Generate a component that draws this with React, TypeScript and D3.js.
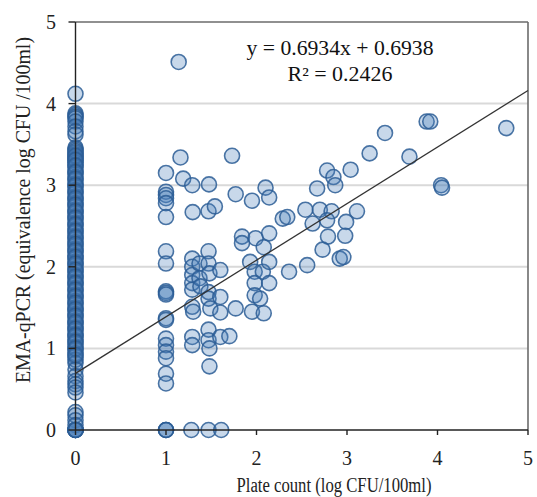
import React from "react";
import * as d3 from "d3";

// EMA-qPCR values where plate count = 0
const zeroPlateQpcr = [
  4.12, 3.88, 3.86, 3.84, 3.82, 3.78, 3.72, 3.66, 3.62, 3.46, 3.44, 3.4, 3.38,
  3.35, 3.33, 3.3, 3.28, 3.25, 3.22, 3.18, 3.14, 3.1, 3.06, 3.02, 2.98, 2.94,
  2.9, 2.86, 2.82, 2.78, 2.74, 2.7, 2.66, 2.62, 2.58, 2.54, 2.5, 2.46, 2.42,
  2.38, 2.34, 2.3, 2.26, 2.22, 2.18, 2.14, 2.1, 2.06, 2.02, 1.98, 1.94, 1.9,
  1.86, 1.82, 1.78, 1.74, 1.7, 1.66, 1.62, 1.58, 1.54, 1.5, 1.46, 1.42, 1.38,
  1.34, 1.3, 1.26, 1.22, 1.18, 1.14, 1.1, 1.06, 1.02, 0.98, 0.94, 0.9, 0.86,
  0.82, 0.74, 0.66, 0.6, 0.56, 0.52, 0.46, 0.22, 0.18, 0.12, 0.06, 0, 0, 0, 0,
  3.42, 3.36, 3.31, 3.24, 3.16, 3.08, 3.0, 2.92, 2.84, 2.76, 2.68, 2.6, 2.52,
  2.44, 2.36, 2.28, 2.2, 2.12, 2.04, 1.96, 1.88, 1.8, 1.72, 1.64, 1.56, 1.48,
  1.4, 1.32, 1.24, 1.16, 1.08, 1.0, 0.92, 0.0, 0.0,
];

// EMA-qPCR values where plate count = 1
const onePlateQpcr = [
  3.15, 2.92, 2.88, 2.84, 2.78, 2.61, 2.19, 2.04, 1.7, 1.68, 1.66, 1.37, 1.35,
  1.12, 1.04, 0.96, 0.88, 0.69, 0.57, 0, 0, 0,
];

// remaining samples: plate count (x) and EMA-qPCR (y)
const otherPlate = [
  1.14, 1.16, 1.73, 1.19, 1.29, 1.475, 1.77, 1.95, 2.1, 2.14, 1.295, 1.47, 1.54,
  1.84, 1.84, 1.99, 2.08, 2.14, 1.29, 1.29, 1.29, 1.29, 1.29, 1.29, 1.3, 1.37,
  1.37, 1.38, 1.47, 1.47, 1.48, 1.47, 1.47, 1.49, 1.6, 1.6, 1.6, 1.77, 1.95,
  2.08, 1.93, 1.98, 2.07, 2.14, 1.98, 2.14, 1.98, 2.04, 1.29, 1.29, 1.47, 1.47,
  1.48, 1.48, 1.6, 1.7, 1.28, 1.47, 1.61, 3.42, 3.25, 3.69, 3.04, 2.78, 2.85,
  2.87, 2.67, 2.54, 2.7, 2.83, 3.11, 2.29, 2.34, 2.62, 2.78, 2.99, 2.79, 2.98,
  2.73, 2.92, 2.96, 2.36, 2.56, 3.88, 3.92, 4.76, 4.04, 4.05,
];
const otherQpcr = [
  4.51, 3.34, 3.36, 3.08, 3.0, 3.01, 2.89, 2.81, 2.97, 2.85, 2.67, 2.68, 2.74,
  2.37, 2.29, 2.35, 2.24, 2.41, 2.1, 2.0, 1.9, 1.8, 1.72, 1.51, 1.45, 2.04,
  1.86, 1.76, 2.19, 2.04, 1.92, 1.69, 1.61, 1.49, 1.96, 1.63, 1.44, 1.49, 1.45,
  1.43, 2.06, 1.94, 1.94, 2.06, 1.8, 1.8, 1.65, 1.61, 1.14, 1.04, 1.23, 1.1,
  1.0, 0.78, 1.14, 1.15, 0, 0, 0, 3.64, 3.39, 3.35, 3.19, 3.18, 3.1, 3.0, 2.96,
  2.7, 2.7, 2.68, 2.68, 2.59, 2.61, 2.53, 2.57, 2.55, 2.37, 2.38, 2.21, 2.1,
  2.12, 1.94, 2.02, 3.78, 3.78, 3.7, 3.0, 2.97,
];

const trendSlope = 0.6934;
const trendIntercept = 0.6938;
const rSquared = 0.2426;

const xTicks = [0, 1, 2, 3, 4, 5];
const yTicks = [0, 1, 2, 3, 4, 5];

const W = 537;
const H = 497;
const margin = { top: 22, right: 9, bottom: 67, left: 75.5 };
const FONT = "'Liberation Serif', 'Times New Roman', serif";

export default function App() {
  const x = d3
    .scaleLinear()
    .domain([0, 5])
    .range([margin.left, W - margin.right]);
  const y = d3
    .scaleLinear()
    .domain([0, 5])
    .range([H - margin.bottom, margin.top]);

  const points: [number, number][] = [
    ...zeroPlateQpcr.map((v) => [0, v] as [number, number]),
    ...onePlateQpcr.map((v) => [1, v] as [number, number]),
    ...otherPlate.map((v, i) => [v, otherQpcr[i]] as [number, number]),
  ];

  const line = d3
    .line<number>()
    .x((d) => x(d))
    .y((d) => y(trendSlope * d + trendIntercept));

  const x0 = x(0),
    x1 = x(5),
    y0 = y(0),
    y1 = y(5);

  return (
    <svg
      width={W}
      height={H}
      style={{ position: "absolute", left: 0, top: 0, background: "#fff" }}
      fontFamily={FONT}
    >
      {/* gridlines */}
      {yTicks
        .filter((t) => t > 0 && t < 5)
        .map((t) => (
          <line
            key={"g" + t}
            x1={x0}
            x2={x1}
            y1={y(t)}
            y2={y(t)}
            stroke="#d9d9d9"
            strokeWidth={2}
          />
        ))}
      {/* frame */}
      <line x1={x0} x2={x1} y1={y1} y2={y1} stroke="#6b6b6b" strokeWidth={1.6} />
      <line x1={x1} x2={x1} y1={y1} y2={y0} stroke="#6b6b6b" strokeWidth={1.6} />

      {/* points */}
      <g>
        {points.map((p, i) => (
          <circle
            key={i}
            cx={x(p[0])}
            cy={y(p[1])}
            r={7.5}
            fill="#4a7ebb"
            fillOpacity={0.3}
            stroke="#2c5d95"
            strokeOpacity={0.85}
            strokeWidth={1.6}
          />
        ))}
      </g>

      {/* axes */}
      <line x1={x0} x2={x0} y1={y0} y2={y1} stroke="#222" strokeWidth={1.4} />
      <line x1={x0} x2={x1} y1={y0} y2={y0} stroke="#222" strokeWidth={1.6} />
      {yTicks.map((t) => (
        <g key={"yt" + t}>
          <line x1={x0 - 7} x2={x0} y1={y(t)} y2={y(t)} stroke="#222" strokeWidth={1.4} />
          <text
            x={56}
            y={y(t)}
            dy="0.35em"
            textAnchor="end"
            fontSize={20}
            fill="#222"
          >
            {t}
          </text>
        </g>
      ))}
      {xTicks.map((t) => (
        <g key={"xt" + t}>
          <line x1={x(t)} x2={x(t)} y1={y0} y2={y0 + 5} stroke="#222" strokeWidth={1.4} />
          <text
            x={x(t)}
            y={y0 + 35}
            textAnchor="middle"
            fontSize={20}
            fill="#222"
          >
            {t}
          </text>
        </g>
      ))}

      {/* trendline */}
      <path d={line([0, 5]) || ""} fill="none" stroke="#333" strokeWidth={1.3} />

      {/* equation */}
      <text
        x={340}
        y={55}
        textAnchor="middle"
        fontSize={20}
        fill="#111"
        textLength={187}
        lengthAdjust="spacingAndGlyphs"
      >
        {`y = ${trendSlope}x + ${trendIntercept}`}
      </text>
      <text
        x={340}
        y={81}
        textAnchor="middle"
        fontSize={20}
        fill="#111"
        textLength={105}
        lengthAdjust="spacingAndGlyphs"
      >
        {`R² = ${rSquared}`}
      </text>

      {/* axis titles */}
      <text
        x={334}
        y={492}
        textAnchor="middle"
        fontSize={20}
        fill="#222"
        textLength={195}
        lengthAdjust="spacingAndGlyphs"
      >
        Plate count (log CFU/100ml)
      </text>
      <text
        transform={`translate(30, 210) rotate(-90)`}
        textAnchor="middle"
        fontSize={21}
        fill="#222"
        textLength={346}
        lengthAdjust="spacingAndGlyphs"
      >
        EMA-qPCR (equivalence log CFU /100ml)
      </text>
    </svg>
  );
}
